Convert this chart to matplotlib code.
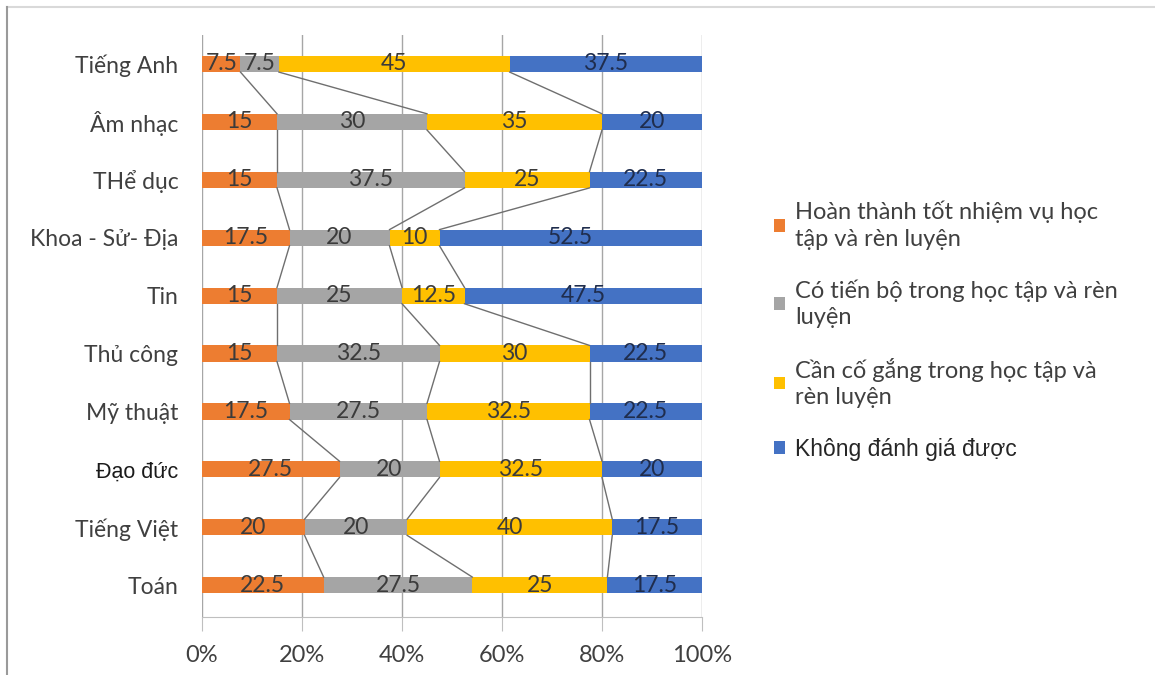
import matplotlib.pyplot as plt
import numpy as np

# categories bottom -> top
mon_hoc = ["Toán", "Tiếng Việt", "Đạo đức", "Mỹ thuật", "Thủ công", "Tin",
           "Khoa - Sử- Địa", "THể dục", "Âm nhạc", "Tiếng Anh"]

hoan_thanh = [22.5, 20, 27.5, 17.5, 15, 15, 17.5, 15, 15, 7.5]
tien_bo = [27.5, 20, 20, 27.5, 32.5, 25, 20, 37.5, 30, 7.5]
co_gang = [25, 40, 32.5, 32.5, 30, 12.5, 10, 25, 35, 45]
khong_dg = [17.5, 17.5, 20, 22.5, 22.5, 47.5, 52.5, 22.5, 20, 37.5]

ten_nhom = ["Hoàn thành tốt nhiệm vụ học\ntập và rèn luyện",
            "Có tiến bộ trong học tập và rèn\nluyện",
            "Cần cố gắng trong học tập và\nrèn luyện",
            "Không đánh giá được"]
mau = ["#ED7D31", "#A5A5A5", "#FFC000", "#4472C4"]
mau_chu = ["#3b3b3b", "#3b3b3b", "#3b3b3b", "#1f2d4d"]

plt.rcParams['font.family'] = ['Lato', 'DejaVu Sans']

data = np.array([hoan_thanh, tien_bo, co_gang, khong_dg], dtype=float)
tong = data.sum(axis=0)
pct = data / tong * 100

fig = plt.figure(figsize=(11.55, 6.75), dpi=100)
ax = fig.add_axes([0.1749, 0.0859, 0.4329, 0.8622])

y = np.arange(len(mon_hoc))
h = 0.28
left = np.zeros(len(mon_hoc))
for i in range(4):
    ax.barh(y, pct[i], left=left, height=h, color=mau[i], label=ten_nhom[i], zorder=3)
    for j in range(len(mon_hoc)):
        ax.text(left[j] + pct[i][j] / 2, y[j], f"{data[i][j]:g}", ha='center', va='center',
                fontsize=16.5, color=mau_chu[i], zorder=5)
    left = left + pct[i]

# series lines
cum = np.cumsum(pct, axis=0)
for k in range(3):
    for j in range(len(mon_hoc) - 1, 0, -1):
        ax.plot([cum[k][j], cum[k][j - 1]], [y[j] - h / 2, y[j - 1] + h / 2],
                color='#6f6f6f', lw=1, zorder=4)

ax.set_xlim(0, 100)
ax.set_ylim(-0.55, 9.5)
ax.set_xticks([0, 20, 40, 60, 80, 100])
ax.set_xticklabels(["0%", "20%", "40%", "60%", "80%", "100%"])
ax.set_yticks(y)
ax.set_yticklabels(mon_hoc)
ax.grid(axis='x', color='#a6a6a6', lw=1, zorder=0)
for s in ['top', 'right', 'left']:
    ax.spines[s].set_visible(False)
ax.spines['bottom'].set_color('#bfbfbf')
ax.tick_params(axis='x', length=10, color='#bfbfbf', labelsize=17, labelcolor='#404040', pad=10)
ax.tick_params(axis='y', length=0, labelsize=16.5, labelcolor='#404040', pad=17)
for t in ax.get_yticklabels():
    if t.get_text() == "Đạo đức":
        t.set_fontfamily('Liberation Sans')
        t.set_fontsize(15.5)
        t.set_color('#1a1a1a')

leg = ax.legend(loc='upper left', bbox_to_anchor=(0.660, 0.72), bbox_transform=fig.transFigure,
                frameon=False, fontsize=17, handlelength=0.45, handleheight=0.45,
                handletextpad=0.45, labelspacing=1.25, borderpad=0, labelcolor='#404040')
for t in leg.get_texts():
    t.set_linespacing(1.32)
leg.get_texts()[3].set_fontfamily('Liberation Sans')
leg.get_texts()[3].set_fontsize(16.5)
leg.get_texts()[3].set_color('#262626')

# outer frame of the screenshot
fig.add_artist(plt.Line2D([0.006, 1], [0.99, 0.99], transform=fig.transFigure, color='#d9d9d9', lw=1.5))
fig.add_artist(plt.Line2D([0.006, 0.006], [0, 0.99], transform=fig.transFigure, color='#9a9a9a', lw=1.5))

fig.savefig("out.png", dpi=100)
